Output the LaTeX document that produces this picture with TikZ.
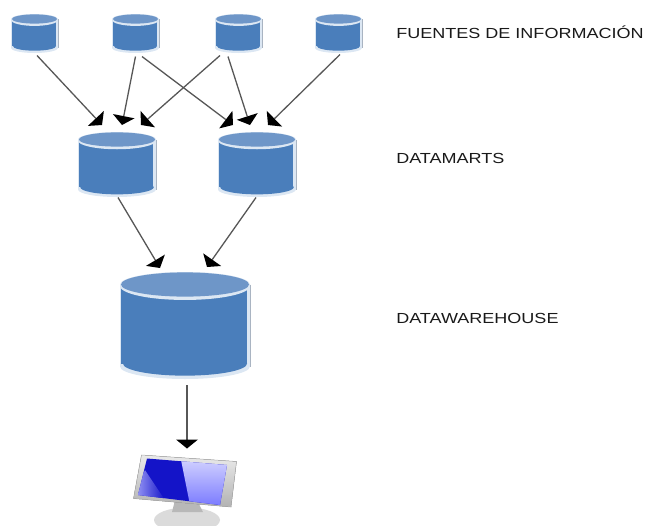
\documentclass[tikz,border=0pt]{standalone}
\usepackage{fontspec}
\setmainfont{Liberation Sans}
\usetikzlibrary{arrows.meta}
\definecolor{dbbody}{HTML}{4A7EBB}
\definecolor{dbtop}{HTML}{6E96C8}
\definecolor{dbrim}{HTML}{DCE7F3}
\definecolor{dbedge}{HTML}{A9B4C2}
\definecolor{scr}{HTML}{1414C8}
\tikzset{
  x=1pt,y=-1pt,
  dbbox/.style={rectangle,inner sep=0pt,outer sep=0pt},
  arr/.style={draw=black!66,line width=1.3pt,
    -{Triangle[fill=black,length=9pt,width=22pt,line width=0pt]}},
  lab/.style={anchor=base west,inner sep=0pt,xscale=1.235,
    font=\fontsize{14.6pt}{16pt}\selectfont,text=black!90}
}
% name, centre x, centre y, width, height, ellipse radius
\newcommand\dbdrum[6]{%
  \pgfmathsetmacro\rx{#4/2}\pgfmathsetmacro\hh{#5/2}\pgfmathsetmacro\ry{#6}%
  \pgfmathsetmacro\rim{1.2+\ry*0.14}%
  \begin{scope}[shift={(#2,#3)}]
    \fill[dbrim] (0,-\hh+\ry) ellipse ({\rx} and {\ry});
    \fill[dbrim] (-\rx,-\hh+\ry) rectangle (\rx,\hh-\ry);
    \fill[dbrim] (0,\hh-\ry) ellipse ({\rx} and {\ry});
    \draw[dbedge,line width=.7pt] (\rx,-\hh+\ry) -- (\rx,\hh-\ry);
    \fill[dbbody] (0,\hh-\ry-\rim) ellipse ({\rx-\rim} and {\ry-.4});
    \fill[dbbody] (-\rx+1,-\hh+\ry) rectangle (\rx-\rim-.4,\hh-\ry-\rim);
    \fill[dbrim] (0,-\hh+\ry+.5*\rim) ellipse ({\rx} and {\ry+.5*\rim});
    \fill[dbtop] (0,-\hh+\ry) ellipse ({\rx-1} and {\ry-.4});
  \end{scope}
  \node[dbbox,minimum width=#4 pt,minimum height=#5 pt] (#1) at (#2,#3) {};%
}
\begin{document}
\begin{tikzpicture}
\useasboundingbox (0,0) rectangle (645,525);
\dbdrum{s1}{34.5}{33.5}{47}{39}{5}
\dbdrum{s2}{135.5}{33.5}{47}{39}{5}
\dbdrum{s3}{238.5}{33.5}{47}{39}{5}
\dbdrum{s4}{338.5}{33.5}{47}{39}{5}
\dbdrum{d1}{117}{164.5}{78}{65}{7.5}
\dbdrum{d2}{257}{164.5}{78}{65}{7.5}
\dbdrum{w}{185}{325.5}{130}{107}{12.5}
% monitor
\begin{scope}
\clip (120,440) rectangle (250,525);
\fill[black!14] (187,520) ellipse (33 and 12.5);
\fill[black!28] (175,500) -- (198,502) -- (203,512) -- (172,512) -- cycle;
\fill[top color=black!8,bottom color=black!30,draw=black!30,line width=.5pt]
  (141.5,455) -- (236.5,461.5) -- (231,507) -- (133.5,498.5) -- cycle;
\clip (147,458.5) -- (227,465) -- (220,505) -- (138,495) -- cycle;
\fill[scr] (130,450) rectangle (240,510);
\shade[top color=white!85!blue,bottom color=blue!55!white] (180,455) -- (232,462) -- (224,510) -- (190,505) -- cycle;
\shade[left color=white!70!blue,right color=scr] (145,470) -- (165,500) -- (130,500) -- cycle;
\end{scope}
\node[dbbox,minimum size=0pt] (m) at (187,448.5) {};
% connectors
\draw[arr] ([xshift=2.5pt,yshift=-2.5pt]s1.south) -- ([xshift=-15pt,yshift=7pt]d1.north);
\draw[arr] ([yshift=-3.5pt]s2.south) -- ([xshift=5pt,yshift=7pt]d1.north);
\draw[arr] ([xshift=-18.5pt,yshift=-2.5pt]s3.south) -- ([xshift=24pt,yshift=7pt]d1.north);
\draw[arr] ([xshift=6.5pt,yshift=-3.5pt]s2.south) -- ([xshift=-24pt,yshift=7pt]d2.north);
\draw[arr] ([xshift=-10.5pt,yshift=-3.5pt]s3.south) -- ([xshift=-7pt,yshift=7pt]d2.north);
\draw[arr] ([xshift=1.5pt,yshift=-1.5pt]s4.south) -- ([xshift=11pt,yshift=7pt]d2.north);
\draw[arr] ([xshift=1pt,yshift=-.5pt]d1.south) -- ([xshift=-25pt,yshift=4pt]w.north);
\draw[arr] ([xshift=-1pt,yshift=-.5pt]d2.south) -- ([xshift=22pt,yshift=5pt]w.north);
\draw[arr] ([xshift=2pt,yshift=-6pt]w.south) -- (m);
\node[lab] (l1) at (396,38) {FUENTES DE INFORMACIÓN};
\node[lab] (l2) at (396,163) {DATAMARTS};
\node[lab] (l3) at (396,323) {DATAWAREHOUSE};
\end{tikzpicture}
\end{document}
